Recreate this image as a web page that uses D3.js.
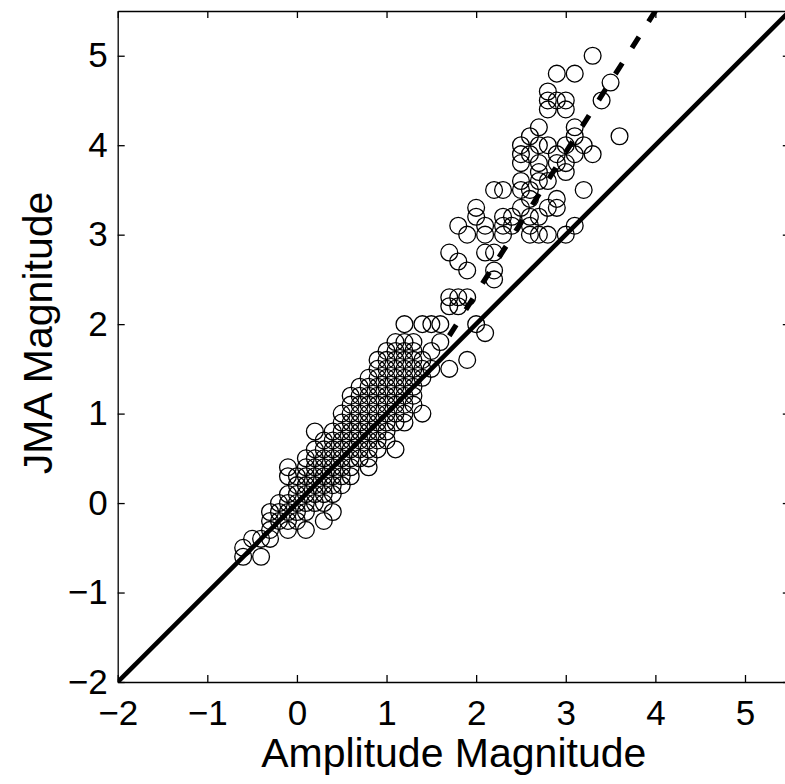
<!DOCTYPE html>
<html>
<head>
<meta charset="utf-8">
<script src="https://cdn.jsdelivr.net/npm/d3@7"></script>
<style>
  body { margin: 0; background: #fff; }
  svg { display: block; font-family: "Liberation Sans", Arial, Helvetica, sans-serif; }
</style>
</head>
<body>
<svg width="785" height="784"></svg>
<script>
// JMA magnitude rows (0.1 steps) and the amplitude magnitudes seen on each row
var jmaRows = [5.0, 4.8, 4.7, 4.6, 4.5, 4.4, 4.2, 4.1, 4.0, 3.9, 3.8, 3.7, 3.6, 3.5, 3.4, 3.3, 3.2, 3.1, 3.0,
               2.8, 2.7, 2.6, 2.5, 2.3, 2.2, 2.0, 1.9, 1.8, 1.7, 1.6, 1.5, 1.4, 1.3, 1.2, 1.1, 1.0,
               0.9, 0.8, 0.7, 0.6, 0.5, 0.4, 0.3, 0.2, 0.1, 0.0, -0.1, -0.2, -0.3, -0.4, -0.5, -0.6];
var ampRows = [
  [3.3],
  [2.9, 3.1],
  [3.5],
  [2.8],
  [2.8, 2.9, 3.0, 3.4],
  [2.8, 3.0],
  [2.7, 3.1],
  [2.6, 3.1, 3.6],
  [2.5, 2.7, 2.8, 3.0, 3.2],
  [2.5, 2.6, 2.9, 3.1, 3.3],
  [2.5, 2.7, 2.9, 3.0],
  [2.7, 3.0],
  [2.5, 2.7, 2.8],
  [2.2, 2.3, 2.5, 2.6, 3.2],
  [2.6, 2.9],
  [2.0, 2.5, 2.8, 2.9],
  [2.0, 2.3, 2.4, 2.6, 2.7],
  [1.8, 2.1, 2.3, 2.4, 2.6, 3.1],
  [1.9, 2.1, 2.3, 2.6, 2.7, 2.8, 3.0],
  [1.7, 2.1, 2.2],
  [1.8],
  [1.9, 2.2],
  [2.2],
  [1.7, 1.8, 1.9],
  [1.7, 1.8],
  [1.2, 1.4, 1.5, 1.6, 2.0],
  [2.1],
  [1.1, 1.2, 1.3, 1.6],
  [1.0, 1.1, 1.2, 1.3, 1.5],
  [0.9, 1.0, 1.1, 1.2, 1.3, 1.4, 1.9],
  [0.9, 1.0, 1.1, 1.2, 1.3, 1.4, 1.5, 1.7],
  [0.8, 0.9, 1.0, 1.1, 1.2, 1.3, 1.4],
  [0.7, 0.8, 0.9, 1.0, 1.1, 1.2, 1.3],
  [0.6, 0.7, 0.8, 0.9, 1.0, 1.1, 1.2, 1.3],
  [0.6, 0.7, 0.8, 0.9, 1.0, 1.1, 1.2, 1.3],
  [0.5, 0.6, 0.7, 0.8, 0.9, 1.0, 1.1, 1.2, 1.4],
  [0.5, 0.6, 0.7, 0.8, 0.9, 1.0, 1.1, 1.2],
  [0.2, 0.4, 0.5, 0.6, 0.7, 0.8, 0.9, 1.0],
  [0.3, 0.4, 0.5, 0.6, 0.7, 0.8, 0.9, 1.0],
  [0.2, 0.3, 0.4, 0.5, 0.6, 0.7, 0.8, 0.9, 1.1],
  [0.1, 0.2, 0.3, 0.4, 0.5, 0.6, 0.7, 0.8],
  [-0.1, 0.1, 0.2, 0.3, 0.4, 0.5, 0.6, 0.8],
  [-0.1, 0.0, 0.1, 0.2, 0.3, 0.4, 0.5, 0.6],
  [0.0, 0.1, 0.2, 0.3, 0.4, 0.5],
  [-0.1, 0.0, 0.1, 0.2, 0.3, 0.4],
  [-0.2, -0.1, 0.0, 0.1, 0.2, 0.3],
  [-0.3, -0.2, -0.1, 0.0, 0.1, 0.4],
  [-0.3, -0.2, -0.1, 0.0, 0.3],
  [-0.3, -0.1, 0.1],
  [-0.5, -0.4, -0.3],
  [-0.6],
  [-0.6, -0.4]
];

// 1:1 reference line and the dashed fit line
var refAmp = [-2, 5.5], refJma = [-2, 5.5];
var fitAmp = [1.7, 4.05], fitJma = [1.87, 5.58];

var xTicks = [-2, -1, 0, 1, 2, 3, 4, 5];
var yTicks = [-2, -1, 0, 1, 2, 3, 4, 5];

var svg = d3.select("svg");
var pLeft = 117.7, pRight = 789.8, pTop = 11, pBottom = 682;

var x = d3.scaleLinear().domain([-2, 5.5]).range([pLeft, pRight]);
var y = d3.scaleLinear().domain([-2, 5.5]).range([pBottom, pTop]);

var points = [];
jmaRows.forEach(function(j, i) {
    ampRows[i].forEach(function(a) { points.push([a, j]); });
});

svg.append("rect").attr("width", 785).attr("height", 784).attr("fill", "#fff");

svg.append("clipPath").attr("id", "plotclip")
    .append("rect")
    .attr("x", pLeft).attr("y", pTop)
    .attr("width", pRight - pLeft).attr("height", pBottom - pTop);

var plot = svg.append("g").attr("clip-path", "url(#plotclip)");

plot.selectAll(".pt")
    .data(points)
    .enter()
    .append("circle")
    .attr("class", "pt")
    .attr("cx", function(d) { return x(d[0]); })
    .attr("cy", function(d) { return y(d[1]); })
    .attr("r", 8.4)
    .attr("fill", "none")
    .attr("stroke", "#000")
    .attr("stroke-width", 1.3);

var line = d3.line()
    .x(function(d) { return x(d[0]); })
    .y(function(d) { return y(d[1]); });

plot.append("path")
    .attr("d", line(d3.zip(refAmp, refJma)))
    .attr("fill", "none")
    .attr("stroke", "#000")
    .attr("stroke-width", 4.6);

plot.append("path")
    .attr("d", line(d3.zip(fitAmp, fitJma)))
    .attr("fill", "none")
    .attr("stroke", "#000")
    .attr("stroke-width", 5.2)
    .attr("stroke-dasharray", "13,18");

// axes box with inward ticks on all four sides
var fmt = function(d) { return d < 0 ? "\u2212" + Math.abs(d) : String(d); };

var axB = svg.append("g").attr("transform", "translate(0," + pBottom + ")")
    .call(d3.axisBottom(x).tickValues(xTicks).tickSizeInner(-7).tickSizeOuter(0).tickPadding(18).tickFormat(fmt));
var axT = svg.append("g").attr("transform", "translate(0," + pTop + ")")
    .call(d3.axisTop(x).tickValues(xTicks).tickSizeInner(-7).tickSizeOuter(0).tickFormat(""));
var axL = svg.append("g").attr("transform", "translate(" + pLeft + ",0)")
    .call(d3.axisLeft(y).tickValues(yTicks).tickSizeInner(-7).tickSizeOuter(0).tickPadding(10).tickFormat(fmt));
var axR = svg.append("g").attr("transform", "translate(" + pRight + ",0)")
    .call(d3.axisRight(y).tickValues(yTicks).tickSizeInner(-7).tickSizeOuter(0).tickFormat(""));

[axB, axT, axL, axR].forEach(function(g) {
    g.selectAll("path, line").attr("stroke", "#000").attr("stroke-width", 1.3);
    g.selectAll("text").attr("fill", "#000").style("font-size", "35px")
        .style("font-family", "'Liberation Sans', Arial, Helvetica, sans-serif");
});

svg.append("text")
    .attr("x", (pLeft + pRight) / 2)
    .attr("y", 767)
    .attr("text-anchor", "middle")
    .style("font-size", "41px")
    .text("Amplitude Magnitude");

svg.append("text")
    .attr("transform", "translate(52,333) rotate(-90)")
    .attr("text-anchor", "middle")
    .style("font-size", "41px")
    .text("JMA Magnitude");
</script>
</body>
</html>
